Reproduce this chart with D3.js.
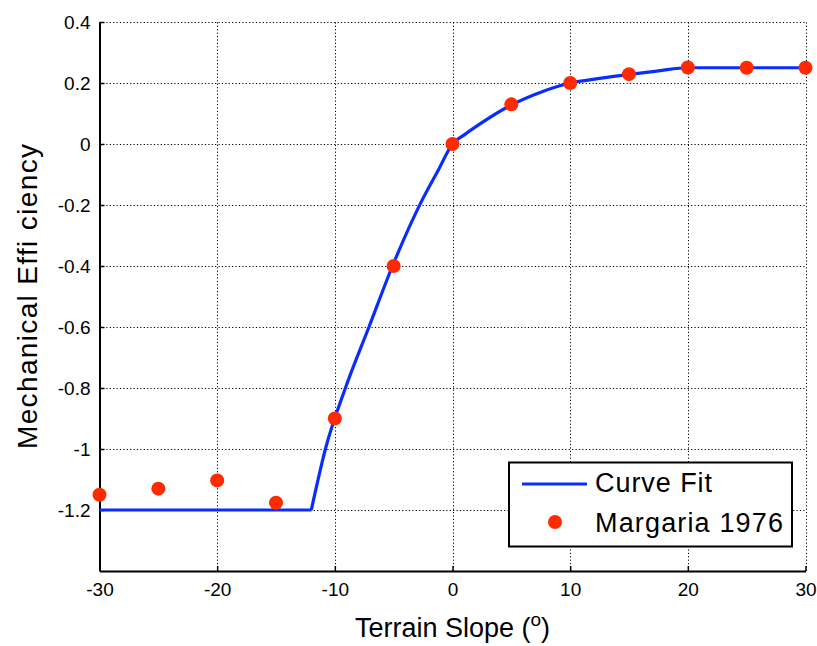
<!DOCTYPE html>
<html>
<head>
<meta charset="utf-8">
<script src="https://cdn.jsdelivr.net/npm/d3@7"></script>
<style>
  body { margin: 0; background: #fff; }
  text { font-family: "Liberation Sans", Arial, sans-serif; }
</style>
</head>
<body>
<script>
// curve fit
var fitSlope = [-30, -12, -10.8, -9.1, -7.1, -5.1, -2.7, -1.2, 0, 1, 2.5, 5, 7.5, 10, 12.5, 15, 17.5, 20, 30];
var fitEff   = [-1.2, -1.2, -1.0, -0.8, -0.6, -0.4, -0.193, -0.085, 0, 0.03, 0.07, 0.128, 0.17, 0.2, 0.215, 0.228, 0.24, 0.25, 0.25];

// Margaria 1976 measurements
var dataSlope = [-30, -25, -20, -15, -10, -5, 0, 5, 10, 15, 20, 25, 30];
var dataEff   = [-1.15, -1.13, -1.103, -1.176, -0.9, -0.4, 0, 0.13, 0.2, 0.229, 0.251, 0.25, 0.25];

var xTicks = [-30, -20, -10, 0, 10, 20, 30];
var yTicks = [0.4, 0.2, 0, -0.2, -0.4, -0.6, -0.8, -1, -1.2];

var width = 817, height = 646;
var margin = {left: 99.5, right: 11.5, top: 22, bottom: 75};

var svg = d3.select("body").append("svg")
  .attr("width", width)
  .attr("height", height);

var x = d3.scaleLinear().domain([-30, 30]).range([margin.left, width - margin.right]);
var y = d3.scaleLinear().domain([-1.4, 0.4]).range([height - margin.bottom, margin.top]);

function fmt(d) { return String(+d.toFixed(1)); }   // plain hyphen minus

// grid
var grid = svg.append("g").attr("stroke", "#000").attr("stroke-width", 1).attr("stroke-dasharray", "1.2,2.2");
grid.selectAll(".gx").data(xTicks.slice(1)).enter().append("line")
  .attr("x1", function(d) { return Math.round(x(d)) + 0.5; })
  .attr("x2", function(d) { return Math.round(x(d)) + 0.5; })
  .attr("y1", y(-1.4)).attr("y2", y(0.4));
grid.selectAll(".gy").data(yTicks).enter().append("line")
  .attr("y1", function(d) { return Math.round(y(d)) + 0.5; })
  .attr("y2", function(d) { return Math.round(y(d)) + 0.5; })
  .attr("x1", x(-30)).attr("x2", x(30));

// axes
var xAxis = d3.axisBottom(x).tickValues(xTicks).tickSizeInner(-5).tickSizeOuter(0).tickPadding(11).tickFormat(fmt);
var yAxis = d3.axisLeft(y).tickValues(yTicks).tickSizeInner(-5).tickSizeOuter(0).tickPadding(9).tickFormat(fmt);

var gx = svg.append("g").attr("transform", "translate(0," + y(-1.4) + ")").call(xAxis);
var gy = svg.append("g").attr("transform", "translate(" + x(-30) + ",0)").call(yAxis);
[gx, gy].forEach(function(g) {
  g.select(".domain").attr("stroke", "#000").attr("stroke-width", 2);
  g.selectAll(".tick line").attr("stroke", "#000").attr("stroke-width", 1.5);
  g.selectAll(".tick text").attr("fill", "#000").style("font-size", "19px")
    .style("font-family", "'Liberation Sans', Arial, sans-serif");
});
gx.selectAll(".tick text").attr("dy", "0.75em");

// curve fit: flat part straight, rising part smooth
var fit = d3.zip(fitSlope, fitEff);
var line = d3.line()
  .x(function(d) { return x(d[0]); })
  .y(function(d) { return y(d[1]); });

svg.append("path")
  .datum(fit.filter(function(d) { return d[0] <= -12; }))
  .attr("fill", "none").attr("stroke", "#0a2dff").attr("stroke-width", 3.2)
  .attr("d", line);
svg.append("path")
  .datum(fit.filter(function(d) { return d[0] >= -12; }))
  .attr("fill", "none").attr("stroke", "#0a2dff").attr("stroke-width", 3.2)
  .attr("d", line.curve(d3.curveMonotoneX));

// data points
svg.selectAll(".pt").data(d3.zip(dataSlope, dataEff)).enter().append("circle")
  .attr("cx", function(d) { return x(d[0]); })
  .attr("cy", function(d) { return y(d[1]); })
  .attr("r", 7)
  .attr("fill", "#ff2a00");

// axis titles
var xt = svg.append("text")
  .attr("x", (x(-30) + x(30)) / 2)
  .attr("y", 637)
  .attr("text-anchor", "middle")
  .style("font-size", "27px")
  .attr("fill", "#000");
xt.append("tspan").text("Terrain Slope (");
xt.append("tspan").attr("dy", -11).style("font-size", "19px").text("o");
xt.append("tspan").attr("dy", 11).text(")");

svg.append("text")
  .attr("transform", "translate(37," + ((y(-1.4) + y(0.4)) / 2) + ") rotate(-90)")
  .attr("text-anchor", "middle")
  .style("font-size", "28px")
  .attr("textLength", 305)
  .attr("fill", "#000")
  .text("Mechanical Effi ciency");

// legend
var lg = svg.append("g");
lg.append("rect")
  .attr("x", 509).attr("y", 462.5).attr("width", 283).attr("height", 84)
  .attr("fill", "#fff").attr("stroke", "#000").attr("stroke-width", 2);
lg.append("line")
  .attr("x1", 522).attr("x2", 587).attr("y1", 484).attr("y2", 484)
  .attr("stroke", "#0a2dff").attr("stroke-width", 3);
lg.append("circle").attr("cx", 555).attr("cy", 522).attr("r", 7).attr("fill", "#ff2a00");
lg.append("text").attr("x", 595).attr("y", 492).style("font-size", "27px").attr("fill", "#000")
  .attr("textLength", 117).text("Curve Fit");
lg.append("text").attr("x", 595).attr("y", 532).style("font-size", "27px").attr("fill", "#000")
  .attr("textLength", 188).text("Margaria 1976");
</script>
</body>
</html>
